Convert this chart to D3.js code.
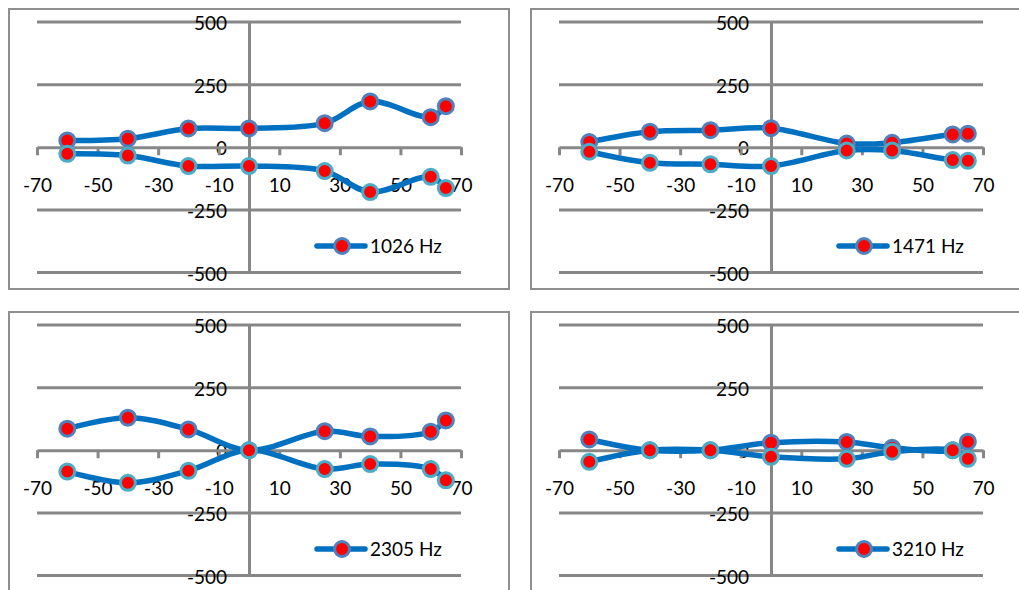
<!DOCTYPE html>
<html>
<head>
<meta charset="utf-8">
<script src="https://cdn.jsdelivr.net/npm/d3@7"></script>
<style>
  html, body { margin: 0; padding: 0; background: #fff; }
  svg { display: block; }
  text { font-family: Lato, "Open Sans", sans-serif; font-size: 19px; fill: #000; }
</style>
</head>
<body>
<svg id="chart" width="1019" height="590"></svg>
<script>
// ---- Data ----
const angles = [-60, -40, -20, 0, 25, 40, 60, 65];
const frequencies = ["1026 Hz", "1471 Hz", "2305 Hz", "3210 Hz"];
const upper1026 = [27, 34, 75, 75, 96, 183, 120, 164];
const lower1026 = [-26, -33, -75, -75, -95, -179, -118, -163];
const upper1471 = [21, 62, 68, 76, 15, 18, 51, 54];
const lower1471 = [-18, -62, -68, -75, -13, -13, -51, -54];
const upper2305 = [86, 130, 83, 0, 76, 55, 74, 119];
const lower2305 = [-85, -130, -82, 0, -75, -55, -75, -120];
const upper3210 = [43, 0, 0, 30, 33, 10, 0, 34];
const lower3210 = [-46, 0, 0, -26, -34, -6, 0, -34];
const xTickValues = [-70, -50, -30, -10, 10, 30, 50, 70];
const yTickValues = [500, 250, 0, -250, -500];

const panels = [
  { label: frequencies[0], upper: upper1026, lower: lower1026, ox: 9,   oy: 9 },
  { label: frequencies[1], upper: upper1471, lower: lower1471, ox: 531, oy: 9 },
  { label: frequencies[2], upper: upper2305, lower: lower2305, ox: 9,   oy: 312 },
  { label: frequencies[3], upper: upper3210, lower: lower3210, ox: 531, oy: 312 }
];

const W = 500, H = 280;
const gridColor = "#878787";
const lineColor = "#0070C0";
const upperStroke = "#4F81BD";
const lowerStroke = "#4BACC6";
const markerFill = "#FF0000";
const fmt = d => String(d);

const x = d3.scaleLinear().domain([-70, 70]).range([28, 452]);
const y = d3.scaleLinear().domain([-500, 500]).range([263.5, 13]);

const svg = d3.select("#chart");

panels.forEach(p => {
  const g = svg.append("g").attr("transform", `translate(${p.ox},${p.oy})`);

  g.append("rect")
    .attr("x", 0).attr("y", 0).attr("width", W).attr("height", H)
    .attr("fill", "#fff").attr("stroke", "#8f8f8f").attr("stroke-width", 2);

  g.selectAll("line.grid").data(yTickValues.filter(v => v !== 0)).enter()
    .append("line").attr("class", "grid")
    .attr("x1", x(-70)).attr("x2", x(70))
    .attr("y1", d => y(d)).attr("y2", d => y(d))
    .attr("stroke", gridColor).attr("stroke-width", 3);

  const yAxis = d3.axisLeft(y).tickValues(yTickValues).tickSize(0).tickPadding(22).tickFormat(fmt);
  const ya = g.append("g").attr("transform", `translate(${x(0)},0)`).call(yAxis);
  ya.select(".domain").attr("stroke", gridColor).attr("stroke-width", 3);
  ya.selectAll("text").attr("font-size", 19).attr("font-family", "Lato, 'Open Sans', sans-serif")
    .attr("fill", "#000").attr("dy", "0.4em");

  const xAxis = d3.axisBottom(x).tickValues(xTickValues).tickSize(8).tickSizeOuter(0).tickPadding(23).tickFormat(fmt);
  const xa = g.append("g").attr("transform", `translate(0,${y(0)})`).call(xAxis);
  xa.select(".domain").attr("stroke", gridColor).attr("stroke-width", 3);
  xa.selectAll(".tick line").attr("stroke", gridColor).attr("stroke-width", 3);
  xa.selectAll("text").attr("font-size", 19).attr("font-family", "Lato, 'Open Sans', sans-serif")
    .attr("fill", "#000");

  const line = d3.line()
    .x((d, i) => x(angles[i]))
    .y(d => y(d))
    .curve(d3.curveCatmullRom.alpha(0.5));

  [[p.upper, upperStroke], [p.lower, lowerStroke]].forEach(([vals, mStroke]) => {
    g.append("path").datum(vals)
      .attr("d", line)
      .attr("fill", "none").attr("stroke", lineColor).attr("stroke-width", 5.5)
      .attr("stroke-linejoin", "round").attr("stroke-linecap", "round");
    g.selectAll(null).data(vals).enter().append("circle")
      .attr("cx", (d, i) => x(angles[i])).attr("cy", d => y(d))
      .attr("r", 7.5).attr("fill", markerFill)
      .attr("stroke", mStroke).attr("stroke-width", 3);
  });

  const lg = g.append("g").attr("transform", "translate(308,237)");
  lg.append("line").attr("x1", 0).attr("x2", 48).attr("y1", 0).attr("y2", 0)
    .attr("stroke", lineColor).attr("stroke-width", 5.5).attr("stroke-linecap", "round");
  lg.append("circle").attr("cx", 25).attr("cy", 0).attr("r", 7.5)
    .attr("fill", markerFill).attr("stroke", upperStroke).attr("stroke-width", 3);
  lg.append("text").attr("x", 53).attr("y", 0).attr("dy", "0.36em").text(p.label);
});
</script>
</body>
</html>
